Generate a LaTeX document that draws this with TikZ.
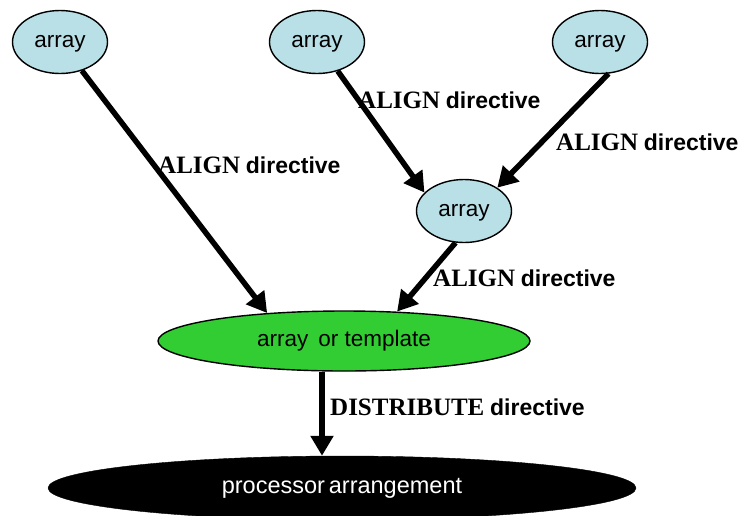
\documentclass[tikz,border=0pt]{standalone}
\usepackage{fontspec}
\setmainfont{Liberation Serif}
\setsansfont{Liberation Sans}
\usetikzlibrary{shapes.geometric,arrows.meta}
\definecolor{nodeblue}{RGB}{184,224,230}
\definecolor{nodegreen}{RGB}{50,205,50}
\newcommand{\serifpart}[1]{{\fontsize{25}{26}\selectfont\textbf{#1}}}
\begin{document}
\begin{tikzpicture}[x=1pt,y=-1pt,
  arrnode/.style={ellipse,draw,line width=1.4pt,fill=nodeblue,minimum width=95pt,minimum height=63pt,inner sep=0pt,text height=16pt,text depth=5pt,font=\sffamily\fontsize{22.5}{24}\selectfont},
  greennode/.style={ellipse,draw,line width=1.4pt,fill=nodegreen,minimum width=372pt,minimum height=60pt,inner sep=0pt,font=\sffamily\fontsize{22.5}{24}\selectfont},
  blacknode/.style={ellipse,draw,fill=black,text=white,minimum width=588pt,minimum height=64pt,inner sep=0pt,font=\sffamily\fontsize{23.5}{24}\selectfont},
  conn/.style={line width=5.5pt,-{Triangle[length=20pt,width=22pt]}},
  lbl/.style={anchor=west,inner sep=0pt,font=\fontsize{23}{26}\selectfont}]
\useasboundingbox (0,0) rectangle (749,515);
\node[arrnode] (a1) at (60,42) {array};
\node[arrnode] (a2) at (317,42) {array};
\node[arrnode] (a3) at (600,42) {array};
\node[arrnode] (a4) at (464,211) {array};
\node[greennode] (g) at (344,341) {array\, or template};
\node[blacknode] (b) at (342,488) {processor\,arrangement};
\coordinate (px) at (322,0);
\draw[conn] (a1) -- (g.160);
\draw[conn] (a2) -- (a4.155);
\draw[conn] (a3.-75) -- (a4.35);
\draw[conn] (a4.-105) -- (g.29);
\draw[conn] (g.south -| px) -- (b.north -| px);
\node[lbl] (l1) at (158,165) {\serifpart{ALIGN} \textsf{\textbf{directive}}};
\node[lbl] (l2) at (358,100) {\serifpart{ALIGN} \textsf{\textbf{directive}}};
\node[lbl] (l3) at (556,142) {\serifpart{ALIGN} \textsf{\textbf{directive}}};
\node[lbl] (l4) at (433,278) {\serifpart{ALIGN} \textsf{\textbf{directive}}};
\node[lbl] (l5) at (330,407) {\serifpart{DISTRIBUTE} \textsf{\textbf{directive}}};
\end{tikzpicture}
\end{document}
